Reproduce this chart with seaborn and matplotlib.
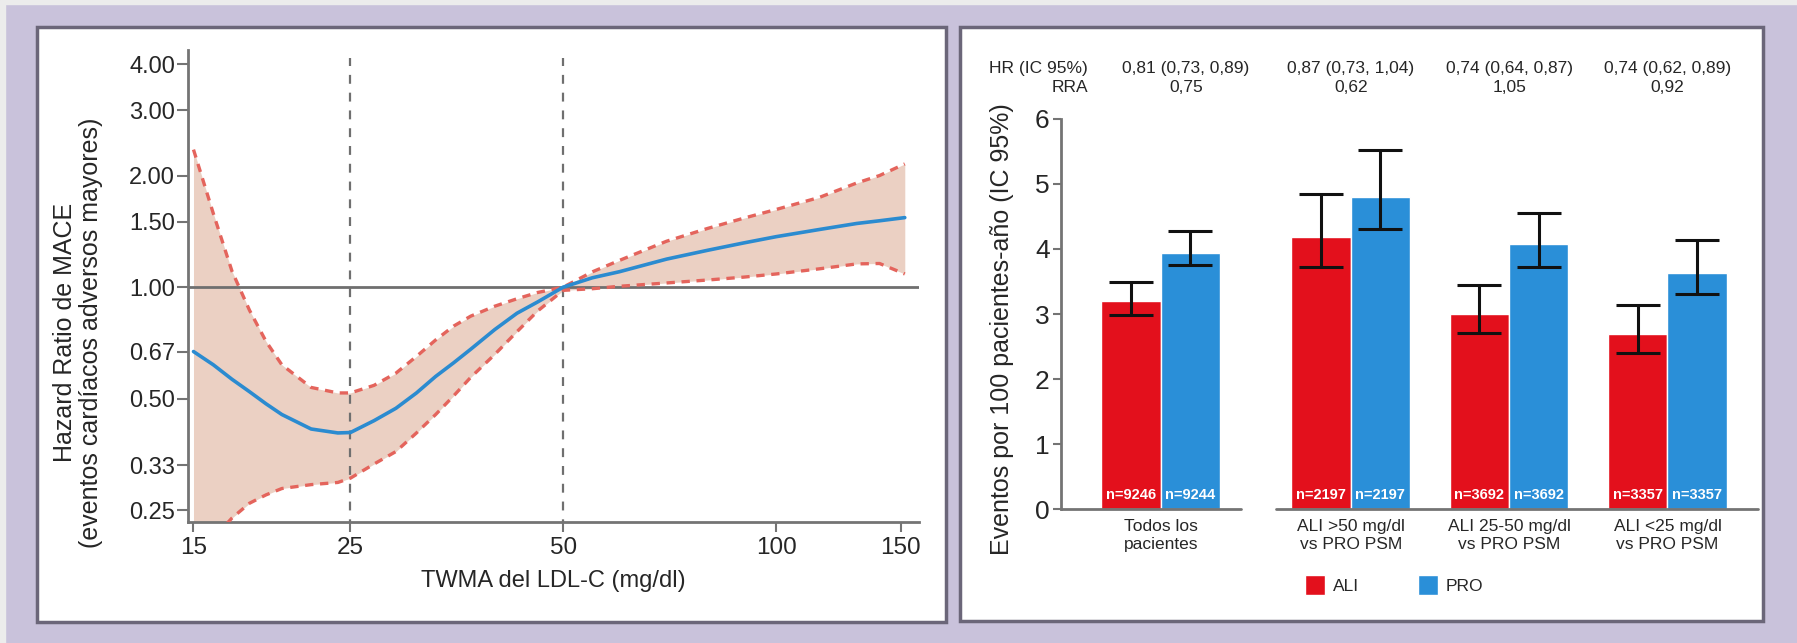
import matplotlib
matplotlib.use("Agg")
import matplotlib.pyplot as plt
from matplotlib.patches import Rectangle
from matplotlib.transforms import blended_transform_factory
import pandas as pd
import seaborn as sns

sns.set_style("ticks")
plt.rcParams["font.family"] = ["Liberation Sans", "DejaVu Sans"]

# ---- panel izquierdo: HR de MACE frente a TWMA del LDL-C
ldl = [15, 16, 17, 18, 19, 20, 22, 24, 25, 27, 29, 31, 33, 35, 37, 40, 43, 46,
       50, 55, 60, 70, 80, 90, 100, 115, 130, 140, 152]
hr = [0.67, 0.617, 0.564, 0.522, 0.484, 0.453, 0.414, 0.404, 0.405, 0.436, 0.471,
      0.518, 0.574, 0.625, 0.68, 0.768, 0.85, 0.912, 1.0, 1.06, 1.10, 1.19, 1.257,
      1.316, 1.368, 1.43, 1.485, 1.51, 1.54]
hr_sup = [2.35, 1.58, 1.105, 0.866, 0.713, 0.617, 0.536, 0.518, 0.518, 0.543, 0.586,
          0.65, 0.72, 0.785, 0.835, 0.888, 0.93, 0.967, 1.0, 1.10, 1.18, 1.33, 1.44,
          1.535, 1.62, 1.745, 1.91, 2.0, 2.15]
hr_inf = [0.19, 0.21, 0.238, 0.261, 0.275, 0.286, 0.293, 0.297, 0.305, 0.333, 0.36,
          0.404, 0.453, 0.509, 0.571, 0.658, 0.758, 0.862, 0.98, 0.99, 1.005, 1.026,
          1.045, 1.064, 1.085, 1.12, 1.155, 1.158, 1.085]
y_ticks = [0.25, 0.33, 0.50, 0.67, 1.00, 1.50, 2.00, 3.00, 4.00]
x_ticks = [15, 25, 50, 100, 150]

# ---- panel derecho: eventos por 100 pacientes-año
grupos = ["Todos los\npacientes", "ALI >50 mg/dl\nvs PRO PSM",
          "ALI 25-50 mg/dl\nvs PRO PSM", "ALI <25 mg/dl\nvs PRO PSM"]
ali = [3.20, 4.18, 3.00, 2.70]
ali_inf = [2.98, 3.73, 2.71, 2.40]
ali_sup = [3.49, 4.85, 3.44, 3.14]
pro = [3.93, 4.80, 4.07, 3.63]
pro_inf = [3.76, 4.30, 3.72, 3.31]
pro_sup = [4.27, 5.52, 4.55, 4.14]
n_ali = [9246, 2197, 3692, 3357]
n_pro = [9244, 2197, 3692, 3357]
hr_txt = ["0,81 (0,73, 0,89)", "0,87 (0,73, 1,04)", "0,74 (0,64, 0,87)", "0,74 (0,62, 0,89)"]
rra_txt = ["0,75", "0,62", "1,05", "0,92"]

ROJO = "#e3101c"
AZUL = "#2a8fd8"
GRIS = "#747474"

W, H = 1797, 643
fig = plt.figure(figsize=(W / 100, H / 100), dpi=100)
fig.patch.set_facecolor("#c9c2db")


def caja(x0, y0, x1, y1):
    # coordenadas en pixeles (origen arriba a la izquierda) -> fraccion de figura
    return [x0 / W, 1 - y1 / H, (x1 - x0) / W, (y1 - y0) / H]


# franjas claras del borde y recuadros blancos de los paneles
for r in [caja(0, 0, W, 4), caja(0, 0, 5, H)]:
    fig.patches.append(Rectangle(r[:2], r[2], r[3], transform=fig.transFigure,
                                 color="#ececec", zorder=-2))
for r in [caja(37, 27, 946, 622), caja(960, 27, 1763, 621)]:
    fig.patches.append(Rectangle(r[:2], r[2], r[3], transform=fig.transFigure,
                                 facecolor="white", edgecolor="#6b6679", lw=2.5, zorder=-1))

# ================= panel izquierdo
ax1 = fig.add_axes(caja(187.5, 49.6, 919, 521.5))
ax1.set_xscale("log")
ax1.set_yscale("log")
ax1.fill_between(ldl, hr_inf, hr_sup, color="#ebd0c3", lw=0, zorder=1)
ax1.axhline(1.0, color="#6f6f6f", lw=2, zorder=2)
ax1.vlines([25, 50], 0.2, 4.15, colors="#6f6f6f", lw=1.6, linestyles=(0, (4, 4)), zorder=2)
for banda in [hr_sup, hr_inf]:
    sns.lineplot(x=ldl, y=banda, ax=ax1, color="#e4645c", lw=2.4,
                 linestyle=(0, (2.5, 2)), zorder=3)
sns.lineplot(x=ldl, y=hr, ax=ax1, color="#2b8bd0", lw=2.6, zorder=4)
ax1.set_xlim(14.71, 159.2)
ax1.set_ylim(0.233, 4.375)
ax1.set_xticks(x_ticks, [str(v) for v in x_ticks])
ax1.set_yticks(y_ticks, [f"{v:.2f}" for v in y_ticks])
ax1.minorticks_off()
ax1.tick_params(axis="y", length=8, width=1.5, color=GRIS, labelsize=17, pad=1)
ax1.tick_params(axis="x", length=7, width=1.5, color=GRIS, labelsize=17.5, pad=4)
sns.despine(ax=ax1)
for s in ["left", "bottom"]:
    ax1.spines[s].set_color(GRIS)
    ax1.spines[s].set_linewidth(2)
ax1.set_xlabel("TWMA del LDL-C (mg/dl)", fontsize=17, labelpad=8)
ax1.set_ylabel("Hazard Ratio de MACE\n(eventos cardíacos adversos mayores)",
               fontsize=18, linespacing=1.15)
ax1.yaxis.set_label_coords(-0.115, 0.40)

# ================= panel derecho
pos_grupo = [0, 1.2, 2.2, 3.2]  # el primer grupo va separado (eje roto)
df = pd.DataFrame({
    "pos": pos_grupo * 2,
    "brazo": ["ALI"] * 4 + ["PRO"] * 4,
    "tasa": ali + pro,
})
ax2 = fig.add_axes(caja(1060.8, 114.8, 1757.7, 509.4))
sns.barplot(data=df, x="pos", y="tasa", hue="brazo", hue_order=["ALI", "PRO"],
            palette={"ALI": ROJO, "PRO": AZUL}, native_scale=True, width=0.75,
            errorbar=None, saturation=1, ax=ax2)

# IC y n: cada barra se asigna a su grupo y brazo segun su posicion
for b in ax2.patches:
    if b.get_height() <= 0:
        continue
    xc = b.get_x() + b.get_width() / 2
    g = min(range(len(pos_grupo)), key=lambda i: abs(pos_grupo[i] - xc))
    es_ali = xc < pos_grupo[g]
    yc = ali[g] if es_ali else pro[g]
    lo = ali_inf[g] if es_ali else pro_inf[g]
    hi = ali_sup[g] if es_ali else pro_sup[g]
    n = n_ali[g] if es_ali else n_pro[g]
    ax2.errorbar(xc, yc, yerr=[[yc - lo], [hi - yc]], fmt="none", ecolor="#111111",
                 elinewidth=2.2, capsize=16, capthick=2.2, zorder=5)
    ax2.text(xc, 0.12, f"n={n}", color="white", ha="center", va="bottom",
             fontsize=10.5, fontweight="bold")

ax2.set_xlim(-0.631, 3.77)
ax2.set_ylim(0, 6.06)
ax2.set_yticks(range(7))
ax2.set_xticks(pos_grupo, grupos)
ax2.tick_params(axis="y", length=6, width=1.5, color=GRIS, labelsize=19, pad=2)
ax2.tick_params(axis="x", length=0, labelsize=12.5, pad=7)
sns.despine(ax=ax2, bottom=True)
ax2.spines["left"].set_color(GRIS)
ax2.spines["left"].set_linewidth(2)
ax2.spines["left"].set_bounds(0, 6)
# eje x partido en dos tramos
ax2.plot([-0.631, 0.51], [0, 0], color=GRIS, lw=2, clip_on=False, zorder=6)
ax2.plot([0.73, 3.77], [0, 0], color=GRIS, lw=2, clip_on=False, zorder=6)
ax2.set_xlabel("")
ax2.set_ylabel("Eventos por 100 pacientes-año (IC 95%)", fontsize=18)
ax2.yaxis.set_label_coords(-0.067, 0.456)

# cabecera HR / RRA
tr = blended_transform_factory(ax2.transData, fig.transFigure)
y1, y2 = 1 - 68 / H, 1 - 88 / H
fig.text(1088 / W, y1, "HR (IC 95%)", ha="right", va="center", fontsize=12.5)
fig.text(1088 / W, y2, "RRA", ha="right", va="center", fontsize=12.5)
for i, (p, a, b) in enumerate(zip(pos_grupo, hr_txt, rra_txt)):
    xp = p + (0.16 if i == 0 else 0)
    ax2.text(xp, y1, a, transform=tr, ha="center", va="center", fontsize=12.5)
    ax2.text(xp, y2, b, transform=tr, ha="center", va="center", fontsize=12.5)

sns.move_legend(ax2, "center left", bbox_to_anchor=(1305 / W, 1 - 585 / H),
                bbox_transform=fig.transFigure, title=None, frameon=False, ncol=2,
                fontsize=12.5, handlelength=1.15, handleheight=1.45,
                handletextpad=0.45, columnspacing=3.4, borderpad=0, borderaxespad=0)

fig.savefig("out.png", dpi=100, facecolor=fig.get_facecolor())
